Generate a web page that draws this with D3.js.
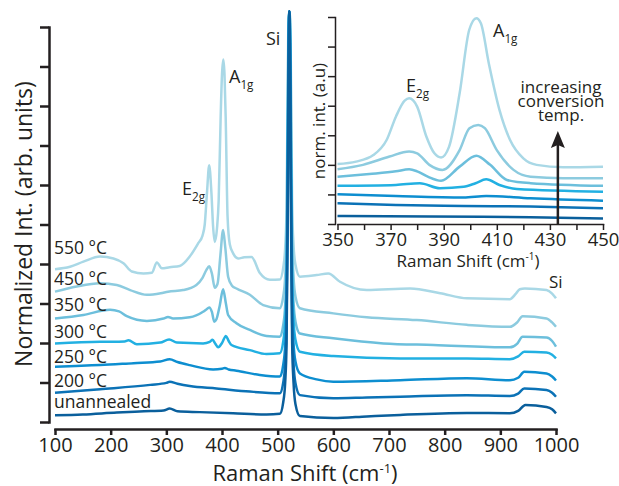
<!DOCTYPE html>
<html>
<head>
<meta charset="utf-8">
<script src="https://cdn.jsdelivr.net/npm/d3@7"></script>
<style>
body { margin: 0; background: #fff; }
text { font-family: "Open Sans", sans-serif; fill: #231f20; }
</style>
</head>
<body>
<div id="chart"></div>
<script>
// series labels, light (hot) to dark (unannealed)
var labels = ["550 °C", "450 °C", "350 °C", "300 °C", "250 °C", "200 °C", "unannealed"];
var colors = ["#a9d8e6", "#8ccbdf", "#6cbfdc", "#22b0e2", "#0d8ed0", "#0b72b6", "#0a5f9c"];

var xTicks = [100, 200, 300, 400, 500, 600, 700, 800, 900, 1000];
var insetXTicks = [350, 370, 390, 410, 430, 450];

// main spectra, [Raman shift, offset intensity]
var s550 = [[100,3.87],[127,3.93],[151,4.06],[181,4.19],[205,4.14],[223,4.02],[238,3.81],[259,3.76],[274,3.78],[283,4.04],[292,3.89],[306,3.92],[324,3.95],[342,4.19],[357,4.52],[365,4.72],[369,5.0],[373,5.8],[377,6.5],[381,5.8],[384,4.95],[387,4.56],[391,4.9],[394,5.6],[397.6,7.73],[400,8.8],[402.4,9.18],[404.5,8.8],[406.6,7.73],[410,5.2],[414,4.5],[420,4.27],[429,4.14],[440,4.17],[453,4.18],[468,3.77],[486,3.6],[504,3.61],
  [510,3.91],[513.5,4.41],[516,5.41],[518,8.5],[519.5,10.2],[521,10.4],[522.5,10.2],[524,8.6],[526,5.48],[528.5,4.48],[532,3.98],
  [540,3.68],[570,3.72],[591,3.76],[612,3.55],[660,3.34],[738,3.38],[792,3.26],[840,3.13],[917,3.11],[928,3.25],[935,3.36],[944,3.38],[983,3.34],[993,3.25],[1000,3.13]];
var s450 = [[100,3.30],[139,3.43],[181,3.51],[211,3.47],[235,3.34],[265,3.22],[290,3.26],[303,3.30],[330,3.34],[354,3.47],[365,3.65],[372,3.85],[377,3.94],[382,3.75],[387,3.40],[392,3.5],[397,4.2],[402,4.86],[406,4.4],[411,3.68],[418,3.45],[426,3.38],[450,3.22],[474,2.96],[504,2.88],
  [510,3.18],[513.5,3.68],[516,4.68],[518,7.8],[519.5,10],[521,10.4],[522.5,10],[524,7.8],[526,4.68],[528.5,3.68],[532,3.18],
  [540,2.88],[600,2.75],[660,2.65],[750,2.58],[840,2.46],[917,2.41],[930,2.52],[940,2.68],[983,2.62],[993,2.52],[1000,2.41]];
var s350 = [[100,2.62],[151,2.71],[199,2.84],[215,2.80],[229,2.68],[265,2.56],[295,2.62],[303,2.66],[312,2.62],[342,2.65],[366,2.79],[372,2.85],[377,2.90],[382,2.78],[386,2.54],[390,2.6],[396,2.95],[402,3.36],[407,3.0],[411,2.71],[426,2.50],[450,2.33],[480,2.18],[504,2.16],
  [510,2.46],[513.5,2.96],[516,3.96],[518,7.1],[519.5,9.8],[521,10.4],[522.5,9.8],[524,7.2],[526,4.04],[528.5,3.04],[532,2.54],
  [540,2.24],[600,2.12],[690,1.99],[780,1.95],[917,1.89],[930,1.98],[940,2.16],[983,2.14],[993,2.05],[1000,1.91]];
var s300 = [[100,1.99],[181,2.03],[225,2.04],[232,2.07],[247,1.97],[289,2.01],[305,2.09],[319,2.01],[366,1.99],[378,2.03],[383,2.08],[388,1.98],[393,1.89],[400,2.0],[407,2.18],[412,2.05],[417,1.95],[450,1.82],[480,1.72],[504,1.74],
  [510,2.04],[513.5,2.54],[516,3.54],[518,6.7],[519.5,9.6],[521,10.4],[522.5,9.6],[524,6.7],[526,3.6],[528.5,2.58],[532,2.08],
  [540,1.78],[600,1.67],[720,1.61],[840,1.61],[917,1.59],[932,1.66],[943,1.78],[983,1.76],[993,1.70],[1000,1.61]];
var s250 = [[100,1.40],[181,1.44],[241,1.49],[289,1.53],[306,1.59],[320,1.52],[342,1.44],[384,1.33],[400,1.35],[405,1.37],[412,1.33],[426,1.30],[468,1.19],[504,1.15],
  [510,1.45],[513.5,1.95],[516,2.95],[518,6.1],[519.5,9.3],[521,10.4],[522.5,9.3],[524,6.2],[526,3.0],[528.5,2.0],[532,1.53],
  [540,1.23],[570,1.08],[600,1.02],[720,1.06],[840,1.11],[917,1.06],[932,1.12],[943,1.27],[983,1.23],[993,1.15],[1000,1.05]];
var s200 = [[100,0.74],[181,0.83],[271,0.94],[300,0.99],[306,1.02],[320,0.97],[342,0.91],[390,0.85],[450,0.77],[504,0.73],
  [510,1.0],[513.5,1.5],[516,2.5],[518,5.7],[519.5,9],[521,10.4],[522.5,9],[524,5.7],[526,2.5],[528.5,1.5],[532,0.98],
  [540,0.68],[600,0.60],[660,0.62],[720,0.64],[840,0.68],[917,0.66],[932,0.72],[943,0.85],[983,0.81],[993,0.74],[1000,0.64]];
var sUn = [[100,0.17],[150,0.19],[211,0.24],[260,0.27],[295,0.29],[306,0.34],[320,0.27],[360,0.25],[420,0.22],[480,0.19],[504,0.21],
  [510,0.5],[513.5,1.0],[516,2.0],[518,5.2],[519.5,8.5],[521,10.4],[522.5,8.5],[524,5.2],[526,2.0],[528.5,1.0],[532,0.45],
  [540,0.15],[600,0.10],[660,0.14],[720,0.18],[840,0.23],[917,0.22],[932,0.28],[945,0.43],[983,0.38],[993,0.32],[1000,0.22]];

// inset spectra (350-450 cm-1), normalised
var i550 = [[350,2.03],[357,2.11],[363.5,2.33],[368.5,2.84],[372,3.63],[375.3,4.17],[377,4.25],[380,3.97],[383.5,2.95],[386.5,2.39],[389,2.25],[392,2.61],[396,4.42],[399.6,6.56],[402.3,6.96],[404,6.79],[407,5.43],[411,3.86],[415,2.84],[420,2.22],[425,2.00],[435,1.92],[450,1.94]];
var i450 = [[350,1.85],[359.6,2.0],[369.6,2.28],[377,2.45],[380,2.39],[384.6,2.0],[389.5,1.83],[396,2.5],[399.7,3.24],[403,3.35],[405.5,3.24],[410,2.5],[416.3,1.83],[422.7,1.60],[435,1.55],[450,1.55]];
var i350 = [[350,1.60],[362,1.69],[372,1.78],[377,1.85],[380,1.78],[384,1.6],[389,1.46],[396,1.94],[402.3,2.31],[407.5,2.0],[413.8,1.49],[422.7,1.38],[450,1.29]];
var i300 = [[350,1.29],[372,1.32],[381,1.38],[388.6,1.21],[397.5,1.26],[402,1.38],[406,1.51],[411,1.32],[417.5,1.18],[450,1.09]];
var i250 = [[350,1.01],[372,0.95],[397.5,0.90],[406,0.95],[422.7,0.87],[450,0.79]];
var i200 = [[350,0.70],[372,0.64],[397.5,0.61],[422.7,0.59],[450,0.53]];
var iUn = [[350,0.27],[384.6,0.25],[422.7,0.23],[450,0.19]];

var mainSeries = [s550, s450, s350, s300, s250, s200, sUn];
var insetSeries = [i550, i450, i350, i300, i250, i200, iUn];
var labelY = [254, 285, 311, 338, 363, 387, 408];

var svg = d3.select("#chart").append("svg")
    .attr("width", 619)
    .attr("height", 486);

var x = d3.scaleLinear().domain([100, 1000]).range([55, 556]);
var y = d3.scaleLinear().domain([0, 10]).range([422, 27]);

function styleAxis(g, w)
{
    g.selectAll("path, line").attr("stroke", "#231f20").attr("stroke-width", w);
    g.select(".domain").attr("stroke-linecap", "square");
}

// main axes
var xAxisG = svg.append("g")
    .attr("transform", "translate(0,429)")
    .call(d3.axisBottom(x).tickValues(xTicks).tickSize(6).tickSizeOuter(0).tickPadding(3)
        .tickFormat(d3.format("d")));
styleAxis(xAxisG, 2.5);
xAxisG.selectAll("text").style("font-size", "20px").style("font-family", "Open Sans").attr("fill", "#231f20");

var yAxisG = svg.append("g")
    .attr("transform", "translate(49,0)")
    .call(d3.axisLeft(y).tickValues(d3.range(0, 11)).tickSize(9).tickSizeOuter(0).tickFormat(""));
styleAxis(yAxisG, 2.5);

svg.append("text")
    .attr("x", 305).attr("y", 481)
    .attr("text-anchor", "middle")
    .style("font-size", "22px")
    .text("Raman Shift (cm")
    .append("tspan").attr("dy", -8).style("font-size", "13px").text("-1")
    .select(function() { return this.parentNode; })
    .append("tspan").attr("dy", 8).text(")");

svg.append("text")
    .attr("transform", "translate(32,224) rotate(-90)")
    .attr("text-anchor", "middle")
    .style("font-size", "23px")
    .text("Normalized Int. (arb. units)");

var line = d3.line()
    .x(d => x(d[0]))
    .y(d => y(d[1]))
    .curve(d3.curveMonotoneX);

svg.append("g")
    .selectAll("path")
    .data(mainSeries)
    .enter()
    .append("path")
    .attr("d", line)
    .attr("fill", "none")
    .attr("stroke", (d, i) => colors[i])
    .attr("stroke-width", 2.5)
    .attr("stroke-linejoin", "round");

svg.append("g")
    .selectAll("text")
    .data(labels)
    .enter()
    .append("text")
    .attr("x", 54)
    .attr("y", (d, i) => labelY[i])
    .style("font-size", "17.5px")
    .text(d => d);

function peakLabel(px, py, main, sub, size)
{
    var t = svg.append("text").attr("x", px).attr("y", py).style("font-size", size + "px").text(main);
    t.append("tspan").attr("dy", 6).style("font-size", (size * 0.65) + "px").text(sub);
}

peakLabel(182, 195, "E", "2g", 18);
peakLabel(229, 83, "A", "1g", 18);
svg.append("text").attr("x", 266).attr("y", 45).style("font-size", "18px").text("Si");
svg.append("text").attr("x", 549).attr("y", 288).style("font-size", "17px").text("Si");

// inset
var xi = d3.scaleLinear().domain([350, 450]).range([337.5, 603]);
var yi = d3.scaleLinear().domain([0, 7]).range([224, 17]);

var ixAxisG = svg.append("g")
    .attr("transform", "translate(0,224)")
    .call(d3.axisBottom(xi).tickValues(d3.range(350, 451, 10)).tickSize(6).tickSizeOuter(0).tickPadding(3)
        .tickFormat(d => insetXTicks.indexOf(d) >= 0 ? d : ""));
styleAxis(ixAxisG, 1.5);
ixAxisG.selectAll("text").style("font-size", "18.5px").style("font-family", "Open Sans").attr("fill", "#231f20");

var iyAxisG = svg.append("g")
    .attr("transform", "translate(335,0)")
    .call(d3.axisLeft(yi).tickValues(d3.range(0, 8)).tickSize(7).tickSizeOuter(0).tickFormat(""));
styleAxis(iyAxisG, 1.5);

svg.append("text")
    .attr("x", 468).attr("y", 267)
    .attr("text-anchor", "middle")
    .style("font-size", "17px")
    .text("Raman Shift (cm")
    .append("tspan").attr("dy", -7).style("font-size", "10px").text("-1")
    .select(function() { return this.parentNode; })
    .append("tspan").attr("dy", 7).text(")");

svg.append("text")
    .attr("transform", "translate(325,121) rotate(-90)")
    .attr("text-anchor", "middle")
    .style("font-size", "17px")
    .text("norm. int. (a.u)");

var iline = d3.line()
    .x(d => xi(d[0]))
    .y(d => yi(d[1]))
    .curve(d3.curveMonotoneX);

svg.append("g")
    .selectAll("path")
    .data(insetSeries)
    .enter()
    .append("path")
    .attr("d", iline)
    .attr("fill", "none")
    .attr("stroke", (d, i) => colors[i])
    .attr("stroke-width", 2.5)
    .attr("stroke-linejoin", "round");

peakLabel(406, 92, "E", "2g", 18);
peakLabel(493, 37, "A", "1g", 18);

var note = ["increasing", "conversion", "temp."];
svg.append("g")
    .selectAll("text")
    .data(note)
    .enter()
    .append("text")
    .attr("x", 561)
    .attr("y", (d, i) => 93 + i * 14)
    .attr("text-anchor", "middle")
    .style("font-size", "17px")
    .text(d => d);

// arrow
svg.append("line")
    .attr("x1", xi(433)).attr("x2", xi(433))
    .attr("y1", 224).attr("y2", 144)
    .attr("stroke", "#231f20").attr("stroke-width", 2.5);
svg.append("path")
    .attr("d", "M" + xi(433) + ",131 l7,17 l-7,-3 l-7,3 z")
    .attr("fill", "#231f20");
</script>
</body>
</html>
